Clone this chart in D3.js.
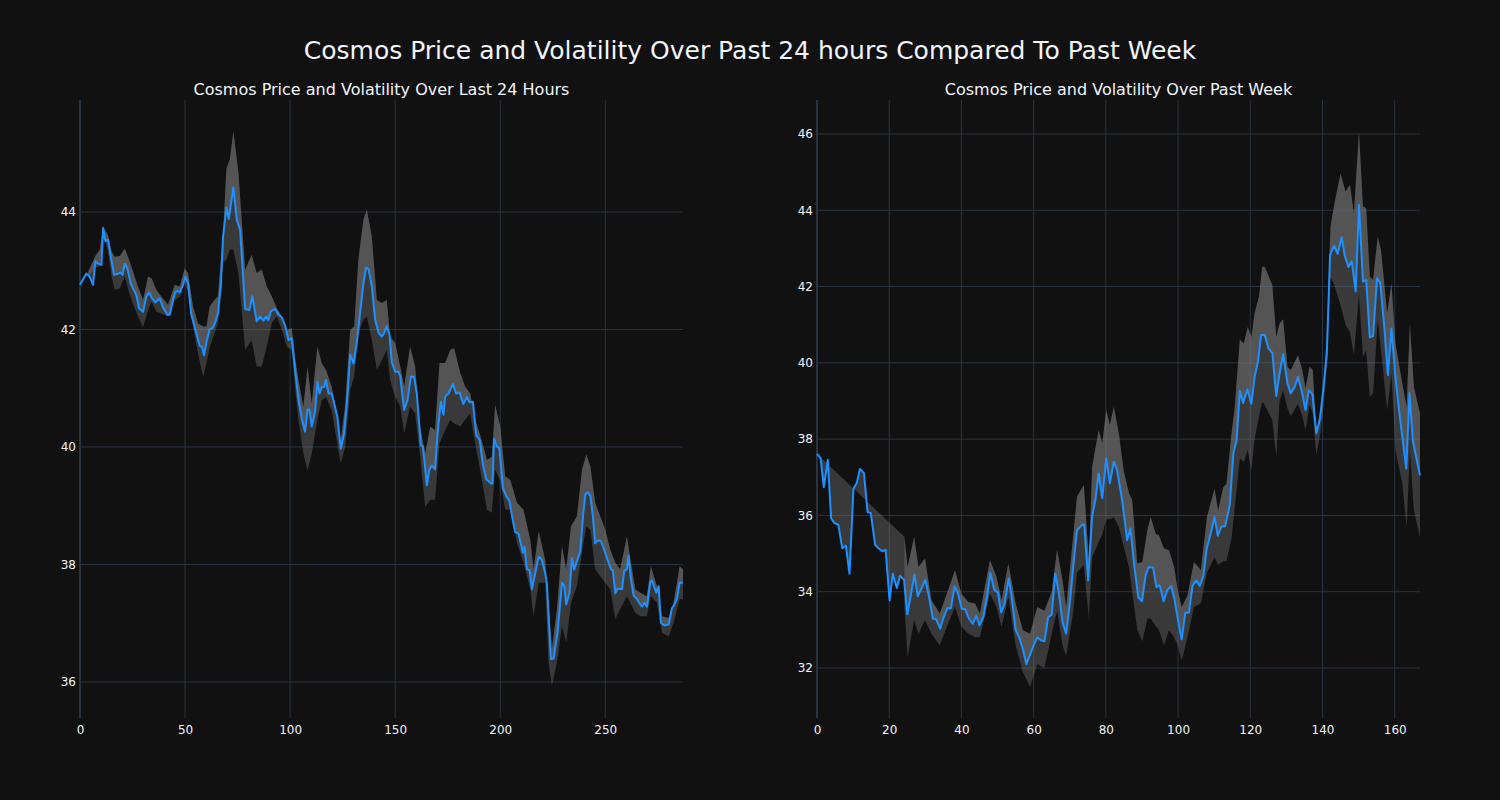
<!DOCTYPE html>
<html>
<head>
<meta charset="utf-8">
<script src="https://cdn.jsdelivr.net/npm/d3@7"></script>
<style>
  html, body { margin: 0; padding: 0; background: #111111; }
  svg { display: block; }
</style>
</head>
<body>
<svg id="chart" width="1500" height="800"></svg>
<script>
// ---------------- DATA ----------------
const mainTitle = "Cosmos Price and Volatility Over Past 24 hours Compared To Past Week";
const leftTitle = "Cosmos Price and Volatility Over Last 24 Hours";
const rightTitle = "Cosmos Price and Volatility Over Past Week";

const leftXTicks = [0, 50, 100, 150, 200, 250];
const leftYTicks = [36, 38, 40, 42, 44];
const rightXTicks = [0, 20, 40, 60, 80, 100, 120, 140, 160];
const rightYTicks = [32, 34, 36, 38, 40, 42, 44, 46];

// Last 24 hours (5-minute steps): [step, price]
const dayPrice = [
[0,42.76],[3,42.95],[4.6,42.90],[6.2,42.76],[7.3,43.16],[8.6,43.12],[10.2,43.10],[11,43.73],[12.1,43.50],[13.3,43.53],
[14.9,43.19],[16.2,42.93],[18.1,42.95],[19.4,42.97],[20.2,42.93],[21.3,43.12],[22.5,43.04],[24.1,42.79],[25.2,42.70],[26.8,42.59],
[28.1,42.36],[30,42.30],[31.6,42.56],[32.9,42.63],[34.3,42.53],[35.9,42.46],[37.9,42.53],[39.5,42.38],[41.6,42.25],[42.7,42.25],
[45.1,42.62],[46.3,42.66],[47.5,42.63],[49,42.76],[50.2,42.90],[51.4,42.79],[53,42.25],[55.4,41.93],[57,41.72],[58.1,41.70],
[59,41.56],[60.2,41.79],[61.7,42.00],[63.3,42.03],[64.4,42.13],[65.7,42.27],[67,42.73],[68.1,43.58],[69.7,44.07],[70.8,43.88],
[71.7,44.10],[73,44.42],[74.6,43.87],[76.2,43.70],[78.6,42.35],[80.6,42.33],[82,42.57],[84.1,42.14],[85.7,42.22],[87.3,42.15],
[88.6,42.22],[89.7,42.16],[90.8,42.31],[92.9,42.35],[94.4,42.25],[96,42.21],[97.6,42.07],[99.2,41.82],[100.8,41.85],[102.4,41.30],
[104,40.80],[105.6,40.48],[107.1,40.26],[108.3,40.64],[109.2,40.64],[110.3,40.35],[111.9,40.60],[113,41.11],[114,40.91],[115.1,41.02],
[116.2,41.02],[117.1,41.14],[118.3,40.91],[119.8,40.91],[121.4,40.68],[122.5,40.51],[124.1,39.97],[125.7,40.23],[127,40.74],[128.6,41.57],
[130.2,41.42],[131.7,41.76],[133.3,42.28],[134.9,42.79],[136.2,43.06],[137.3,43.03],[138.9,42.73],[140.5,42.16],[142.1,41.94],[143.7,41.88],
[144.8,41.94],[146,42.06],[147.3,41.91],[148.4,41.44],[150,41.28],[151.6,41.28],[152.4,41.20],[154.3,40.63],[155.9,40.80],[157.5,41.20],
[159,41.19],[160.3,40.91],[162.2,40.03],[163.2,40.01],[165.1,39.35],[166.3,39.62],[167.5,39.68],[169,39.62],[170.2,40.23],[171.7,40.77],
[173,40.55],[173.8,40.86],[175.4,40.91],[177.5,41.07],[179,40.91],[180.6,40.93],[182.5,40.73],[184.1,40.85],[185.4,40.76],[187,40.77],
[188.6,40.20],[190.2,40.12],[191.7,39.72],[193.3,39.45],[194.4,39.42],[195.6,39.38],[196.3,39.38],[197.1,40.14],[198.4,40.01],[199.6,39.98],
[201.3,39.30],[202.9,39.16],[204.4,39.08],[206,38.75],[207.1,38.55],[208.7,38.53],[210.8,38.20],[211.6,38.30],[212.7,37.92],[214,37.90],
[215.1,37.58],[216.7,37.86],[218.3,38.13],[219.8,38.08],[221.4,37.85],[222.2,37.69],[224.1,36.39],[225.4,36.40],[227.3,36.84],[229.4,37.69],
[230.5,37.64],[231.4,37.32],[233,37.52],[234.1,38.11],[235.2,37.91],[238.1,38.23],[239.4,38.82],[240.5,39.19],[241.6,39.23],[242.9,39.17],
[244.1,38.82],[245.2,38.36],[246.3,38.41],[247.9,38.40],[249.5,38.25],[251.1,38.08],[252.7,37.92],[253.6,37.90],[254.8,37.51],[255.9,37.59],
[258,37.58],[259,37.89],[260.3,37.92],[261.1,38.15],[262.2,37.75],[263.5,37.47],[265.1,37.41],[266.3,37.34],[267.5,37.28],[268.6,37.35],
[269.8,37.28],[271.4,37.69],[272.2,37.73],[274.3,37.52],[275.4,37.63],[276.5,37.01],[278.1,36.96],[280.2,36.98],[281.7,37.25],[282.9,37.32],
[284.1,37.42],[285.4,37.69],[287,37.69]
];

// Last 24 hours volatility band: [step, upper, lower]
const dayBand = [
[4,42.99,42.90],[7.3,43.25,43.05],[9.4,43.36,43.07],[11,43.75,43.68],[13.3,43.61,43.33],[15,43.33,42.90],[16.5,43.24,42.67],[19,43.25,42.70],
[21.3,43.38,42.90],[23.3,43.19,42.64],[25.2,42.99,42.44],[27.6,42.73,42.22],[30,42.50,42.04],[32.4,42.90,42.33],[34,42.87,42.47],[36.4,42.67,42.30],
[38.7,42.56,42.27],[41.9,42.42,42.22],[45.1,42.76,42.50],[47.5,42.73,42.56],[49.8,43.04,42.79],[51.4,42.96,42.64],[53.8,42.39,42.05],[56.2,42.10,41.59],
[58.6,42.05,41.19],[60.2,42.05,41.42],[61.7,42.39,41.70],[64,42.50,41.93],[65.6,42.56,42.10],[68.1,43.64,43.13],[69.7,44.75,43.19],[71.3,44.89,43.36],
[73,45.38,43.36],[75.4,44.67,42.96],[78.6,43.02,41.65],[81.7,43.27,41.82],[84.1,42.96,41.37],[86.5,43.02,41.37],[88.9,42.73,41.71],[91.3,42.56,42.11],
[93.7,42.36,42.22],[96.1,42.22,41.99],[98.4,41.99,41.71],[100.8,42.02,41.65],[102.4,41.50,41.00],[104,41.14,40.46],[106.3,40.68,39.89],[108.3,41.37,39.60],
[110.3,40.74,39.89],[113,41.71,40.46],[115.1,41.42,40.80],[117.1,41.31,40.85],[119.8,41.02,40.63],[122.2,40.57,40.11],[124.1,40.11,39.72],[126.2,40.70,40.00],
[128.6,41.99,40.97],[130.5,42.05,41.20],[132.5,43.19,41.94],[134.9,43.87,42.16],[136.5,44.04,42.22],[138.9,43.58,41.82],[141.3,42.50,41.31],[143.7,42.45,41.48],
[146,42.50,41.65],[147.6,41.88,41.14],[150,41.77,40.86],[152.4,41.37,40.69],[154.3,41.03,40.23],[157.1,41.71,40.69],[159.5,41.37,40.57],[161.9,40.35,39.84],
[164.3,39.89,38.98],[166.7,40.35,39.10],[169,40.29,39.10],[171.1,41.43,40.06],[173.8,41.43,40.29],[176.2,41.65,40.46],[178.1,41.68,40.40],[181,41.26,40.35],
[183.3,41.03,40.46],[185.7,40.91,40.57],[188.1,40.46,40.06],[190.5,40.20,39.60],[193.7,39.78,38.93],[196,39.84,38.88],[197.6,40.72,39.61],[200,40.35,39.44],
[202.4,39.50,38.93],[204.8,39.44,38.93],[208,39.05,38.37],[211.1,38.93,38.03],[214.3,38.42,37.58],[215.9,37.92,37.12],[218.3,38.57,37.69],[221.4,38.08,37.69],
[223,37.35,36.33],[224.6,36.56,35.93],[227,37.24,36.33],[229.4,38.31,36.95],[231.4,37.92,36.67],[233.7,38.65,37.35],[236.5,38.82,37.63],[238.9,39.61,38.20],
[241,39.87,38.65],[242.9,39.67,38.59],[245.2,39.05,37.92],[247.6,38.82,37.80],[250,38.59,37.69],[252.4,38.25,37.58],[254.8,38.03,37.07],[257.1,37.92,37.24],
[260.3,38.48,37.46],[261.9,38.10,37.35],[264.3,37.58,37.18],[266.7,37.52,37.12],[269.8,37.46,37.12],[271.7,37.97,37.46],[274.6,37.63,37.35],[277,37.12,36.84],
[280.2,37.09,36.78],[282.5,37.35,37.01],[285.4,37.97,37.41],[287,37.92,37.41]
];

// Past week (hourly): [hour, price]
const weekPrice = [
[0,37.61],[1,37.50],[1.9,36.74],[3,37.46],[3.9,35.93],[4.8,35.80],[5.9,35.76],[7,35.14],[8,35.21],[9,34.47],
[10.1,36.70],[11,36.85],[11.9,37.22],[13,37.11],[14,36.09],[14.9,36.06],[16.1,35.23],[17,35.14],[18.1,35.06],[19,35.10],
[20.1,33.77],[21,34.47],[22.1,34.10],[23,34.42],[24.1,34.31],[25,33.41],[26,33.92],[27,34.45],[27.9,33.88],[29,34.10],
[30,34.31],[31,33.88],[32.1,33.29],[33,33.28],[34.1,33.03],[35,33.31],[36.1,33.57],[37.1,33.57],[38.1,34.14],[39,33.97],
[40.1,33.55],[41,33.55],[42,33.31],[43.1,33.16],[44.1,33.37],[45,33.12],[46.1,33.35],[47.1,33.88],[48,34.49],[49.1,34.05],
[50.1,33.98],[51,33.46],[51.9,33.66],[53.1,34.35],[54,33.8],[55,33.0],[56,32.8],[57,32.5],[58,32.1],[59,32.35],
[60,32.6],[61,32.8],[62,32.73],[63,32.7],[64,33.33],[65,33.4],[66,34.48],[67,33.95],[68,33.2],[69,32.9],
[70,33.7],[71,34.7],[72,35.61],[73.4,35.75],[74,35.77],[75.1,34.30],[76.2,35.97],[77.1,36.40],[78,37.10],[79,36.45],
[80.1,37.50],[81.1,36.84],[82.2,37.41],[83.1,37.19],[84.5,36.40],[85.9,35.35],[86.8,35.66],[87.9,34.65],[89,33.85],[90,33.75],
[91,34.43],[91.9,34.65],[93.1,34.63],[94,34.12],[94.9,34.17],[96,33.75],[97,34.04],[98.1,34.15],[99,33.8],[100,33.25],
[101,32.75],[102,33.45],[103,33.45],[104,34.15],[105,34.3],[106,34.15],[107,34.4],[107.9,35.12],[109,35.52],[110.1,35.96],
[111,35.47],[112,35.71],[113,35.71],[114.3,36.26],[115.3,37.62],[116.2,37.97],[117.1,39.27],[118,38.95],[119.2,39.30],[120.3,38.93],
[121.2,39.63],[122.1,40.03],[123,40.73],[124,40.73],[125,40.38],[126.1,40.26],[127.2,39.13],[128.1,39.72],[129.1,40.23],[130.3,39.46],
[131.2,39.20],[132.3,39.37],[133.2,39.63],[134.2,39.28],[135.3,38.76],[136.2,39.28],[137.2,39.18],[138.3,38.15],[139.3,38.54],[140.2,39.28],
[141.2,40.25],[142.1,42.83],[143.2,43.07],[144.2,42.86],[145.3,43.29],[146.2,42.79],[147.2,42.51],[148.1,42.66],[149.2,41.87],[150.1,44.14],
[151.2,42.13],[152.1,42.17],[153.1,40.67],[154,40.70],[155.1,42.22],[156,42.09],[157.1,40.95],[158.1,39.68],[159.1,40.90],[160.1,39.72],
[161.2,38.76],[162.1,38.06],[163.2,37.23],[164.1,39.20],[165,37.97],[166.1,37.45],[167,37.05]
];

// Past week volatility band: [hour, upper, lower]
const weekBand = [
[24.2,35.44,33.6],[25.1,34.65,32.29],[26.9,35.44,33.25],[28.1,34.65,32.90],[29.9,34.87,33.25],[31.7,33.78,32.90],[34,33.43,32.60],[36.3,34.04,33.16],
[38.2,34.56,33.60],[40,33.95,33.08],[41.9,33.73,32.90],[43.8,33.69,32.81],[45.1,33.43,32.81],[47.9,34.83,33.95],[49.7,34.39,33.60],[51.1,33.78,33.08],
[53,34.74,33.86],[55,33.7,32.6],[57,33.0,31.9],[59,32.9,31.5],[61,33.6,32.1],[63,33.5,32.0],[65,34.0,32.9],[66.5,35.1,33.5],
[68,34.3,32.6],[69,33.6,32.3],[71,35.5,33.5],[72,36.49,34.5],[73.9,36.80,34.7],[75.3,34.83,33.3],[76.2,37.28,34.9],[78,38.24,35.3],
[79,37.89,35.5],[80.1,38.76,35.9],[81.1,38.37,35.9],[82.2,38.85,35.95],[83.6,38.15,35.7],[84.9,37.19,35.2],[86.4,36.58,34.65],[87.3,36.40,34.0],
[88.7,34.74,33.0],[90.1,34.78,32.7],[91.5,35.61,33.3],[92.4,35.96,33.3],[93.8,35.52,33.1],[94.7,35.48,33.0],[96.1,35.13,32.6],[97.5,35.09,33.0],
[98.9,34.65,32.8],[99.9,34.04,32.6],[101,33.6,32.2],[102.6,33.9,32.8],[104.4,34.78,33.6],[106.3,34.57,33.7],[108,35.96,34.5],[110.1,36.70,34.9],
[111.1,36.13,34.7],[112.5,36.74,34.8],[113.4,36.83,34.8],[114.8,38.15,35.4],[115.7,38.85,36.2],[117.1,40.61,37.5],[118.2,40.51,37.40],[119.3,40.94,37.71],
[120.3,40.68,37.18],[121.2,41.30,38.0],[122.4,41.74,38.6],[123.3,42.52,38.98],[124,42.52,38.89],[126.1,42.04,38.50],[127.2,40.68,37.53],[128.1,41.03,39.0],
[129.1,41.14,39.28],[130.3,39.90,38.8],[131.2,39.81,38.6],[133.2,40.20,38.93],[134.4,39.81,38.6],[135.3,39.33,38.23],[136.4,39.90,38.89],[137.3,39.81,38.67],
[138.3,38.15,37.58],[139.4,38.76,38.15],[140.3,39.46,38.85],[141.2,40.77,40.0],[142.2,43.57,42.26],[143.4,44.23,42.0],[145,44.96,41.5],[146.4,44.49,41.0],
[147.6,44.67,40.8],[148.7,43.92,40.2],[150.1,46.07,41.8],[151.2,44.10,40.16],[152.1,44.06,40.33],[153.1,42.26,39.11],[154,42.18,39.20],[155.3,43.31,41.12],
[156.2,42.96,40.33],[157.9,41.30,38.76],[159.1,42.09,39.72],[160.2,40.51,37.71],[162.1,39.46,36.83],[163.3,38.85,35.69],[164.2,41.03,37.71],[165.3,39.37,36.13],
[167,38.67,35.43]
];

// ---------------- DRAWING ----------------
const W = 1500, H = 800;
const FONT = "'DejaVu Sans', Verdana, sans-serif";
const BG = "#111111", GRID = "#283442", TXT = "#f2f5fa";
const LINE = "#1e90ff";
const BAND = "rgba(140,140,140,0.33)";

const svg = d3.select("#chart");
svg.append("rect").attr("width", W).attr("height", H).attr("fill", BG);

svg.append("text")
  .attr("x", 750).attr("y", 59)
  .attr("text-anchor", "middle")
  .attr("font-family", FONT).attr("font-size", 25).attr("fill", TXT)
  .text(mainTitle);

function panel(cfg) {
  const x = d3.scaleLinear().domain(cfg.xDomain).range([cfg.left, cfg.right]);
  const y = d3.scaleLinear().domain(cfg.yDomain).range([718, 100]);
  const g = svg.append("g");

  // grid
  g.selectAll("line.hg").data(cfg.yTicks).join("line")
    .attr("x1", cfg.left).attr("x2", cfg.right)
    .attr("y1", d => y(d)).attr("y2", d => y(d))
    .attr("stroke", GRID).attr("stroke-width", 1);
  g.selectAll("line.vg").data(cfg.xTicks.filter(d => d !== 0)).join("line")
    .attr("x1", d => x(d)).attr("x2", d => x(d))
    .attr("y1", 100).attr("y2", 718)
    .attr("stroke", GRID).attr("stroke-width", 1);
  // zero line
  g.append("line")
    .attr("x1", x(0)).attr("x2", x(0)).attr("y1", 100).attr("y2", 718)
    .attr("stroke", GRID).attr("stroke-width", 2);

  const pricePts = cfg.price.map(d => [x(d[0]), y(d[1])]);
  const upperPts = cfg.band.map(d => [x(d[0]), y(d[1])]);
  const lowerPts = cfg.band.map(d => [x(d[0]), y(d[2])]);
  const path = d3.line();

  // layer A: price to upper band
  g.append("path")
    .attr("d", path(pricePts.concat(upperPts.slice().reverse())) + "Z")
    .attr("fill", BAND).attr("stroke", "none");
  // layer B: upper band to lower band
  g.append("path")
    .attr("d", path(upperPts.concat(lowerPts.slice().reverse())) + "Z")
    .attr("fill", BAND).attr("stroke", "none");

  // price line
  g.append("path")
    .attr("d", path(pricePts))
    .attr("fill", "none").attr("stroke", LINE).attr("stroke-width", 2)
    .attr("stroke-linejoin", "round");

  // axes labels
  const xAxis = d3.axisBottom(x).tickValues(cfg.xTicks).tickSize(0).tickPadding(7);
  const gx = g.append("g").attr("transform", "translate(0,718)").call(xAxis);
  const yAxis = d3.axisLeft(y).tickValues(cfg.yTicks).tickSize(0).tickPadding(4);
  const gy = g.append("g").attr("transform", `translate(${cfg.left},0)`).call(yAxis);
  [gx, gy].forEach(a => {
    a.select(".domain").remove();
    a.selectAll("text").attr("font-family", FONT).attr("font-size", 12).attr("fill", TXT);
  });

  g.append("text")
    .attr("x", (cfg.left + cfg.right) / 2).attr("y", 95)
    .attr("text-anchor", "middle")
    .attr("font-family", FONT).attr("font-size", 16).attr("fill", TXT)
    .text(cfg.title);
}

panel({
  left: 80, right: 683, xDomain: [0, 287], yDomain: [35.387, 45.906],
  xTicks: leftXTicks, yTicks: leftYTicks, price: dayPrice, band: dayBand, title: leftTitle
});
panel({
  left: 817, right: 1420, xDomain: [0, 167], yDomain: [30.69, 46.89],
  xTicks: rightXTicks, yTicks: rightYTicks, price: weekPrice, band: weekBand, title: rightTitle
});
</script>
</body>
</html>
